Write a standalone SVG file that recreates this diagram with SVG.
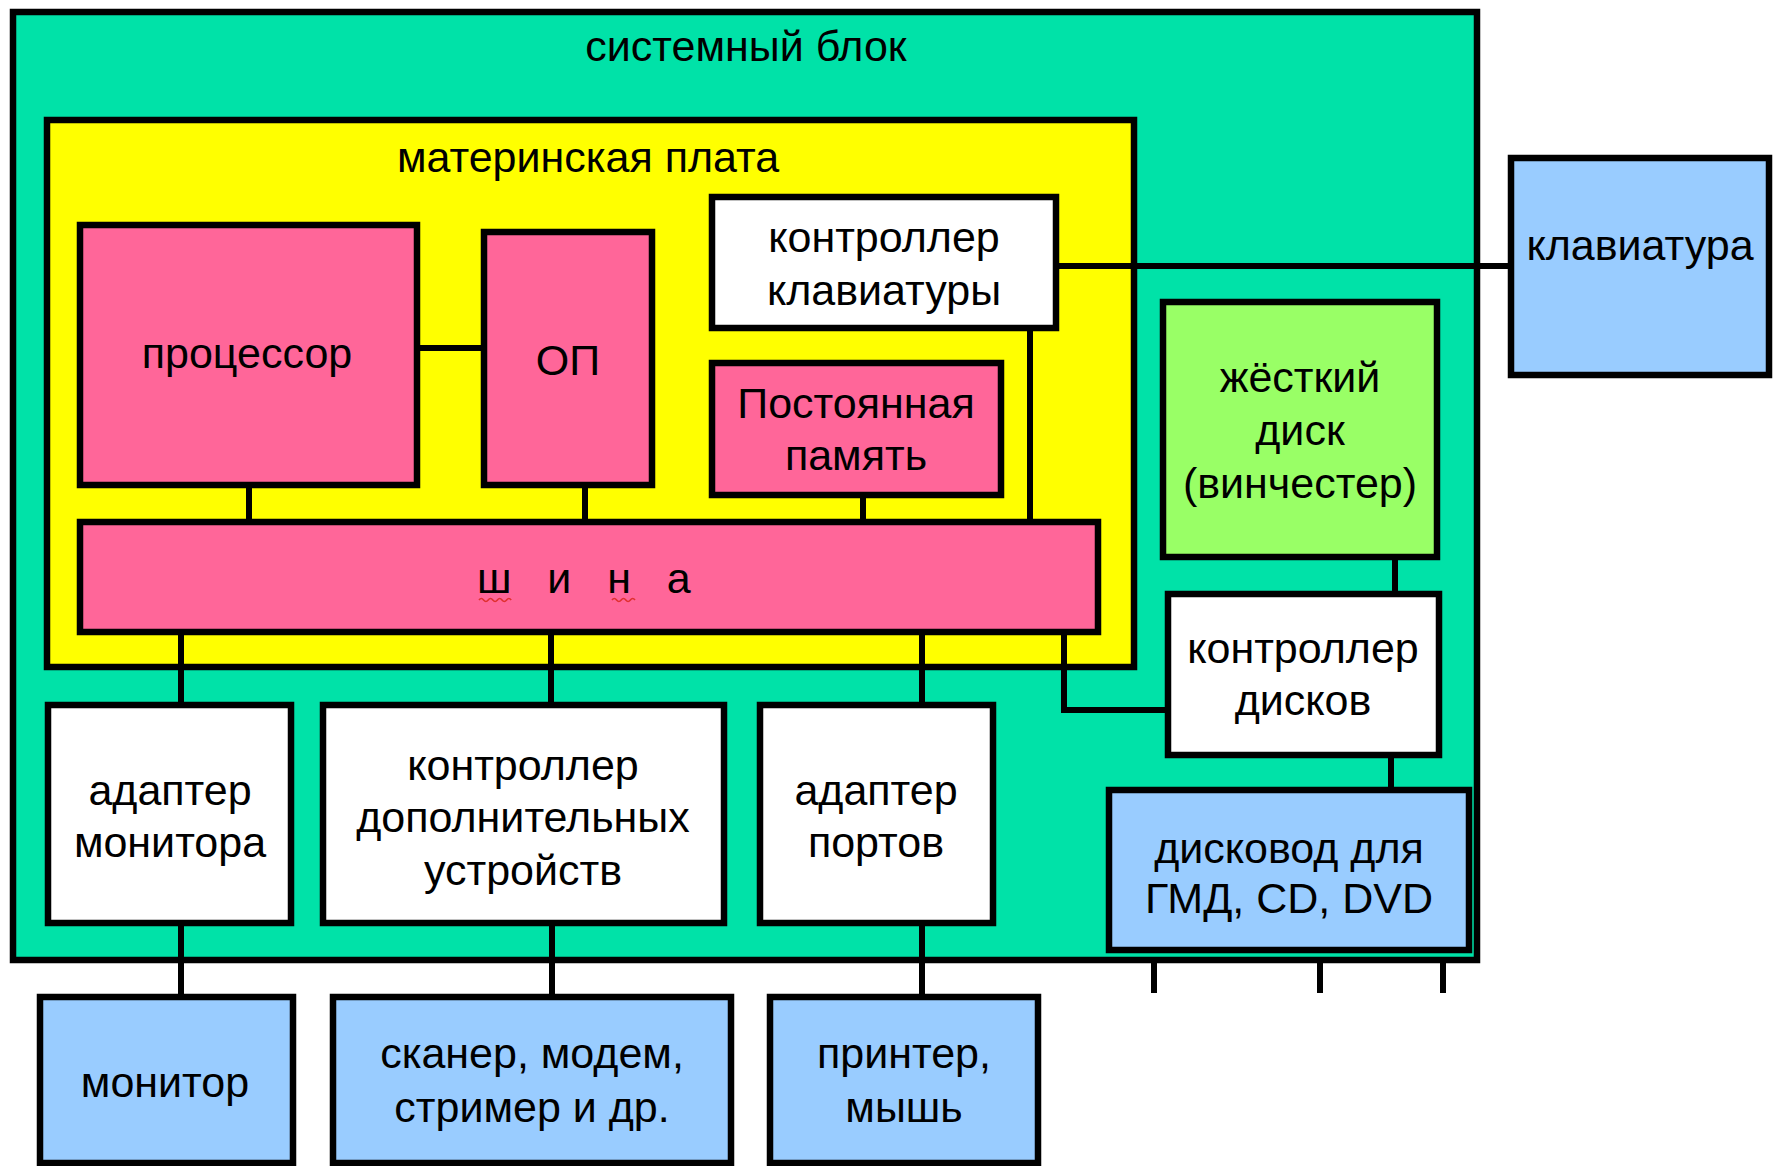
<svg xmlns="http://www.w3.org/2000/svg" width="1773" height="1166" viewBox="0 0 1773 1166">
<style>
  .box{stroke:#000;stroke-width:6.5}
  .teal{fill:#00E2A8}
  .yel{fill:#FFFF00}
  .pink{fill:#FF6699}
  .green{fill:#99FF66}
  .blue{fill:#99CCFF}
  .white{fill:#FFFFFF}
  text{font-family:"Liberation Sans",Arial,sans-serif;font-size:43px;fill:#000;text-anchor:middle}
  .conn line,.conn polyline{stroke:#000;stroke-width:6;fill:none}
  .sq{stroke:#E03030;stroke-width:1.6;fill:none}
</style>
<rect width="1773" height="1166" fill="#FFFFFF"/>
<g id="system-unit">
  <rect class="box teal" x="13" y="12" width="1464" height="948"/>
  <text x="746" y="61">системный блок</text>
</g>
<g id="motherboard">
  <rect class="box yel" x="47" y="120" width="1087" height="547"/>
  <text x="588" y="172">материнская плата</text>
</g>
<g id="connectors" class="conn">
  <line x1="417" y1="348" x2="484" y2="348"/>
  <line x1="249" y1="485" x2="249" y2="522"/>
  <line x1="585" y1="485" x2="585" y2="522"/>
  <line x1="863" y1="495" x2="863" y2="526"/>
  <line x1="1030" y1="328" x2="1030" y2="527"/>
  <polyline points="1056,266 1511,266"/>
  <line x1="181" y1="632" x2="181" y2="705"/>
  <line x1="551" y1="632" x2="551" y2="705"/>
  <line x1="922" y1="632" x2="922" y2="705"/>
  <polyline points="1064,632 1064,710 1168,710"/>
  <line x1="1395" y1="557" x2="1395" y2="594"/>
  <line x1="1391" y1="755" x2="1391" y2="790"/>
  <line x1="181" y1="923" x2="181" y2="997"/>
  <line x1="552" y1="923" x2="552" y2="997"/>
  <line x1="922" y1="923" x2="922" y2="997"/>
  <line x1="1154" y1="960" x2="1154" y2="993"/>
  <line x1="1320" y1="960" x2="1320" y2="993"/>
  <line x1="1443" y1="960" x2="1443" y2="993"/>
</g>
<g id="processor">
  <rect class="box pink" x="80" y="225" width="337" height="260"/>
  <text x="247" y="368">процессор</text>
</g>
<g id="ram">
  <rect class="box pink" x="484" y="232" width="168" height="253"/>
  <text x="568" y="375">ОП</text>
</g>
<g id="keyboard-controller">
  <rect class="box white" x="712" y="197" width="344" height="131"/>
  <text x="884" y="252">контроллер</text>
  <text x="884" y="305">клавиатуры</text>
</g>
<g id="rom">
  <rect class="box pink" x="712" y="363" width="289" height="132"/>
  <text x="856" y="418">Постоянная</text>
  <text x="856" y="470">память</text>
</g>
<g id="bus">
  <rect class="box pink" x="80" y="522" width="1018" height="110"/>
  <text x="477" y="593" xml:space="preserve" style="text-anchor:start">ш   и   н   а</text>
  <path class="sq" d="M479,600 q2.3,-3 4.6,0 t4.6,0 t4.6,0 t4.6,0 t4.6,0 t4.6,0 t4.6,0"/>
  <path class="sq" d="M612,600 q2.3,-3 4.6,0 t4.6,0 t4.6,0 t4.6,0 t4.6,0"/>
</g>
<g id="hard-disk">
  <rect class="box green" x="1163" y="302" width="274" height="255"/>
  <text x="1300" y="392">жёсткий</text>
  <text x="1300" y="445">диск</text>
  <text x="1300" y="498">(винчестер)</text>
</g>
<g id="disk-controller">
  <rect class="box white" x="1168" y="594" width="271" height="161"/>
  <text x="1303" y="663">контроллер</text>
  <text x="1303" y="715">дисков</text>
</g>
<g id="disk-drive">
  <rect class="box blue" x="1109" y="790" width="360" height="160"/>
  <text x="1289" y="863">дисковод для</text>
  <text x="1289" y="913">ГМД, CD, DVD</text>
</g>
<g id="keyboard">
  <rect class="box blue" x="1511" y="158" width="258" height="217"/>
  <text x="1640" y="260">клавиатура</text>
</g>
<g id="monitor-adapter">
  <rect class="box white" x="48" y="705" width="243" height="218"/>
  <text x="170" y="805">адаптер</text>
  <text x="170" y="857">монитора</text>
</g>
<g id="extra-controller">
  <rect class="box white" x="323" y="705" width="401" height="218"/>
  <text x="523" y="780">контроллер</text>
  <text x="523" y="832">дополнительных</text>
  <text x="523" y="885">устройств</text>
</g>
<g id="port-adapter">
  <rect class="box white" x="760" y="705" width="233" height="218"/>
  <text x="876" y="805">адаптер</text>
  <text x="876" y="857">портов</text>
</g>
<g id="monitor">
  <rect class="box blue" x="40" y="997" width="253" height="166"/>
  <text x="165" y="1097">монитор</text>
</g>
<g id="peripherals">
  <rect class="box blue" x="333" y="997" width="398" height="166"/>
  <text x="532" y="1068">сканер, модем,</text>
  <text x="532" y="1122">стример и др.</text>
</g>
<g id="printer-mouse">
  <rect class="box blue" x="770" y="997" width="268" height="166"/>
  <text x="904" y="1068">принтер,</text>
  <text x="904" y="1122">мышь</text>
</g>
</svg>
